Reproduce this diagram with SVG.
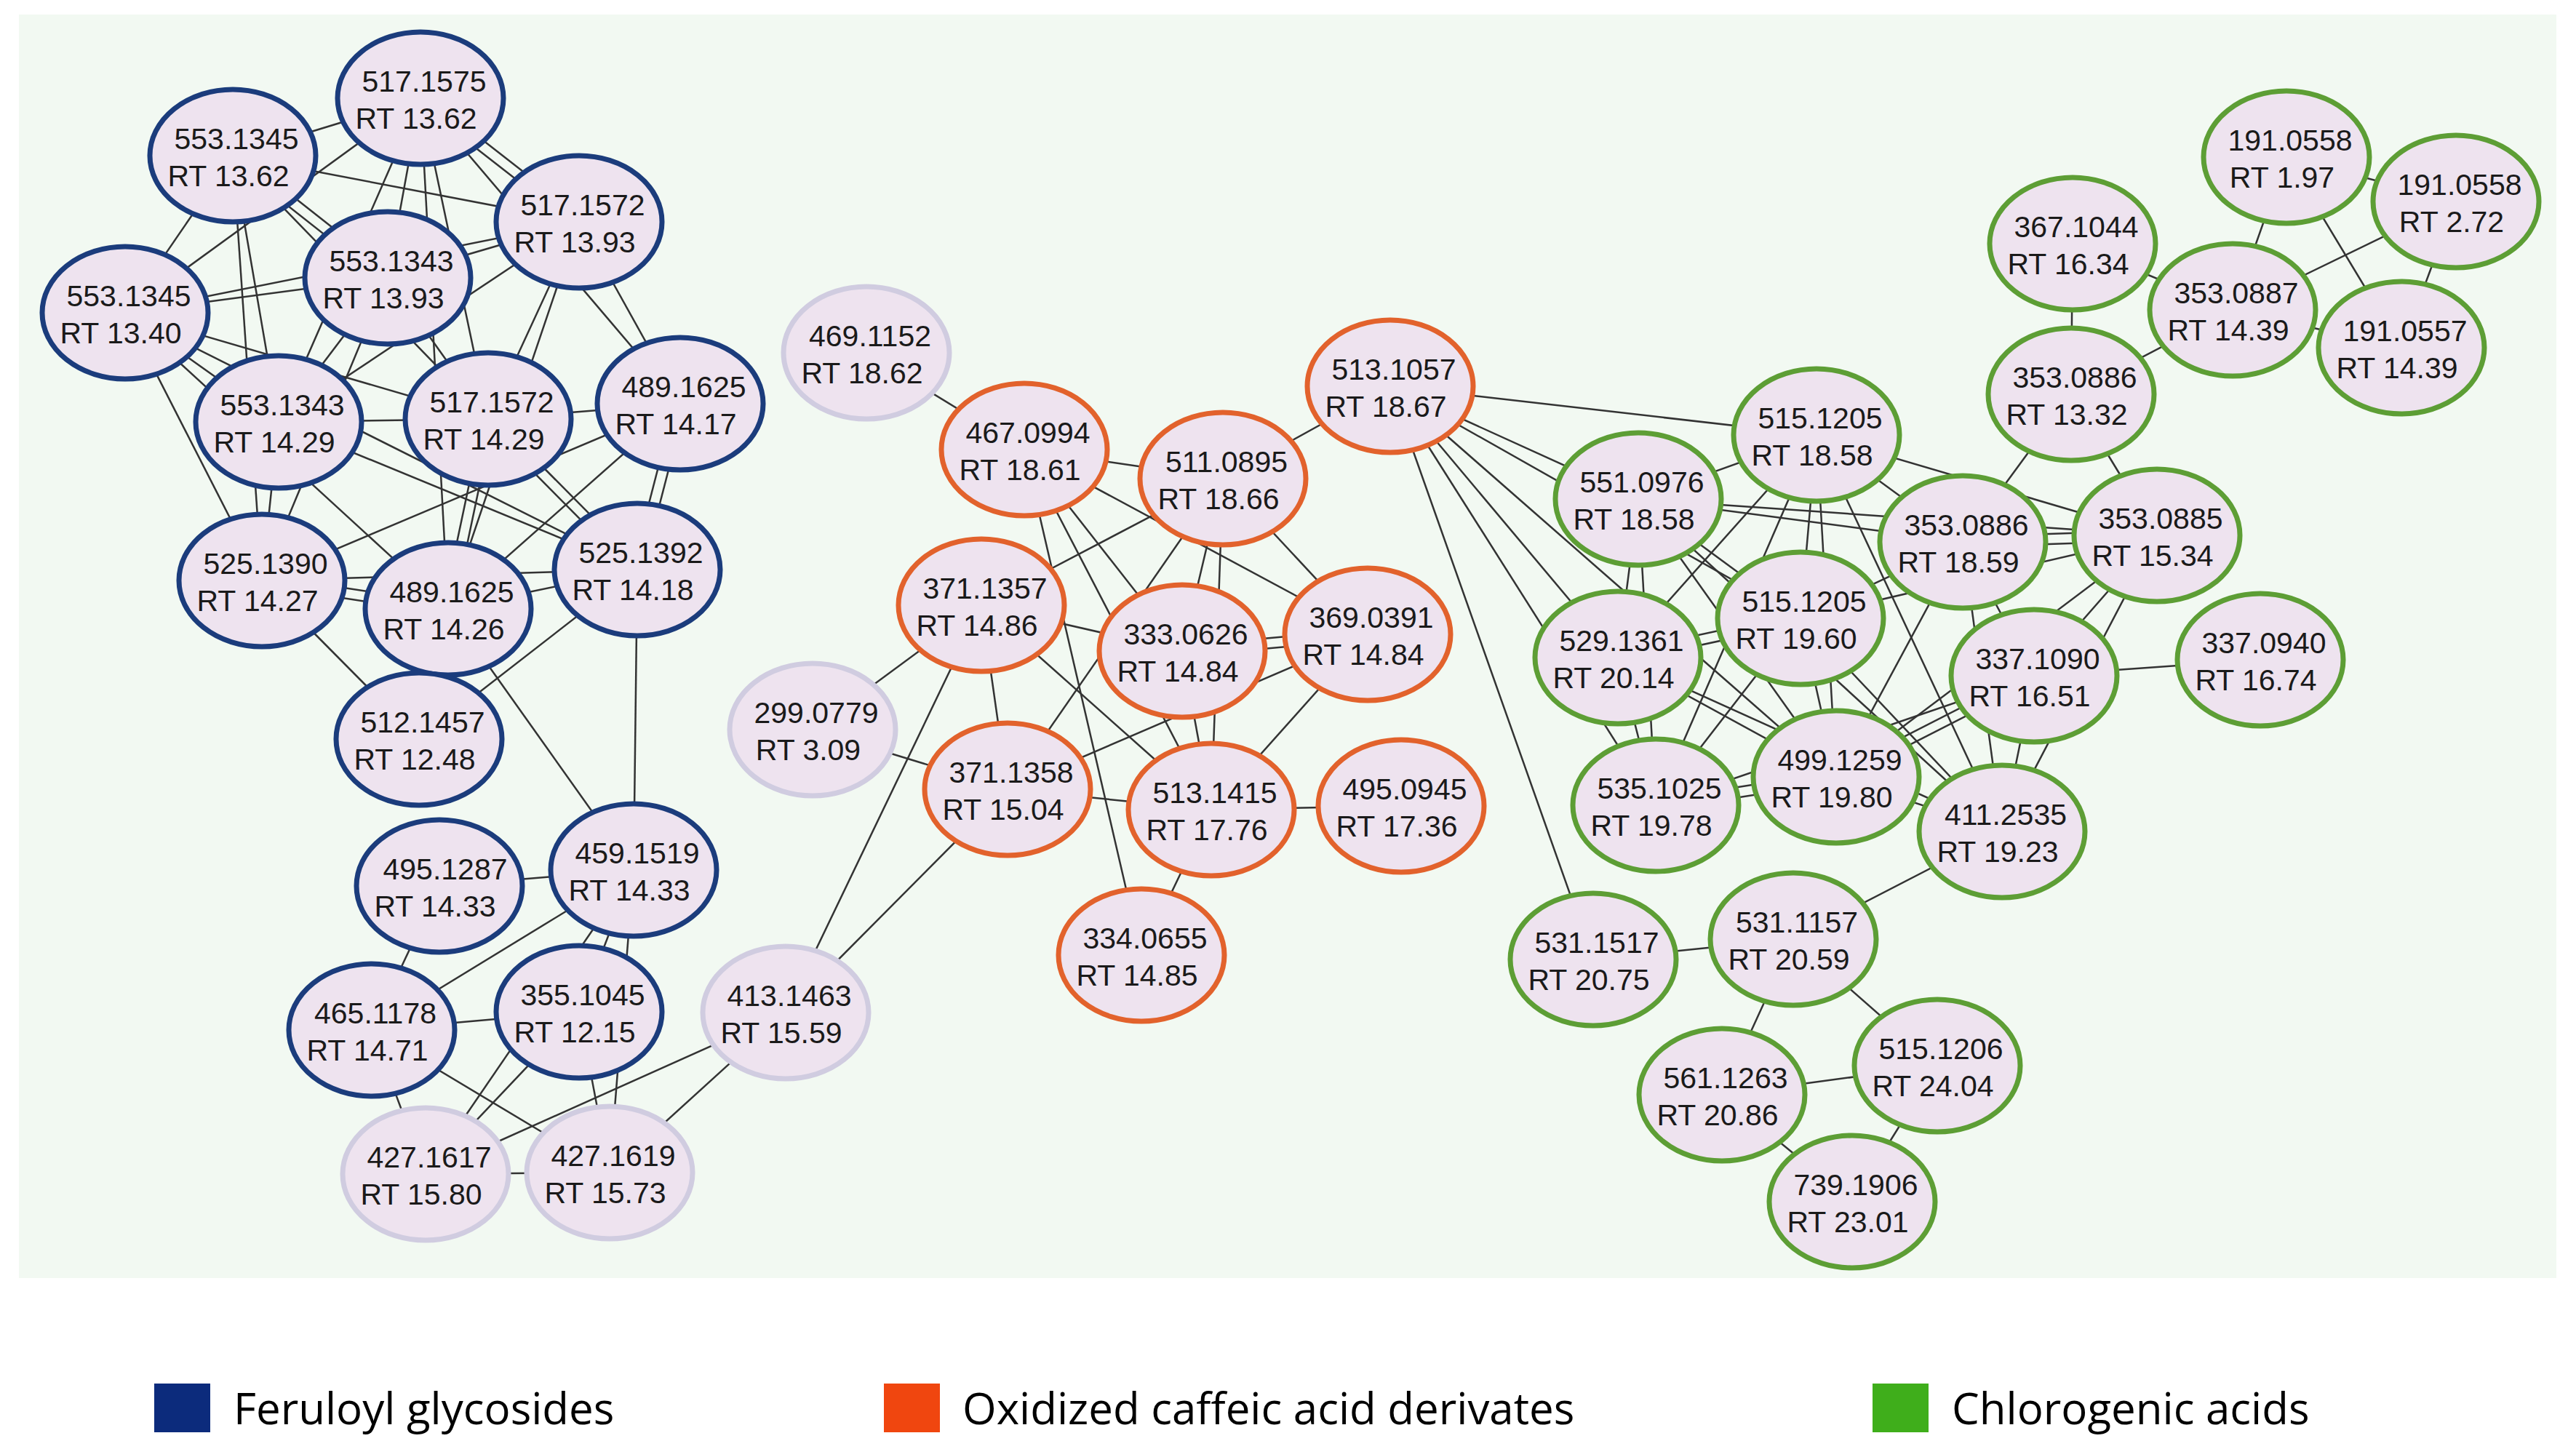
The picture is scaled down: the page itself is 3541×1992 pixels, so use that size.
<svg xmlns="http://www.w3.org/2000/svg" width="3541" height="1992" viewBox="0 0 3541 1992">
<style>
.node ellipse{fill:#eee3ef;stroke-width:7}
.blue ellipse{stroke:#1b3c7c}
.orange ellipse{stroke:#e2622c}
.green ellipse{stroke:#5d9e35}
.grey ellipse{stroke:#d0cce0}
.node text{font-family:"Liberation Sans",Arial,sans-serif;font-size:41px;fill:#1a1a1a;text-anchor:middle}
#edges line{stroke:#333;stroke-width:2.5}
.leg{font-family:"Open Sans","Noto Sans",sans-serif;font-size:60px;fill:#000}
</style>
<rect x="0" y="0" width="3541" height="1992" fill="#ffffff"/>
<rect x="26" y="20" width="3488" height="1737" fill="#f2f9f2"/>
<g id="edges">
<line x1="578" y1="135" x2="320" y2="214"/>
<line x1="574" y1="141" x2="792" y2="311"/>
<line x1="582" y1="129" x2="800" y2="299"/>
<line x1="578" y1="135" x2="172" y2="430"/>
<line x1="578" y1="135" x2="383" y2="580"/>
<line x1="578" y1="135" x2="533" y2="382"/>
<line x1="578" y1="135" x2="616" y2="837"/>
<line x1="578" y1="135" x2="671" y2="576"/>
<line x1="578" y1="135" x2="935" y2="555"/>
<line x1="320" y1="214" x2="796" y2="305"/>
<line x1="316" y1="220" x2="529" y2="388"/>
<line x1="324" y1="208" x2="537" y2="376"/>
<line x1="320" y1="214" x2="671" y2="576"/>
<line x1="320" y1="214" x2="383" y2="580"/>
<line x1="320" y1="214" x2="360" y2="798"/>
<line x1="320" y1="214" x2="172" y2="430"/>
<line x1="796" y1="305" x2="533" y2="382"/>
<line x1="796" y1="305" x2="172" y2="430"/>
<line x1="796" y1="305" x2="383" y2="580"/>
<line x1="796" y1="305" x2="935" y2="555"/>
<line x1="796" y1="305" x2="671" y2="576"/>
<line x1="796" y1="305" x2="616" y2="837"/>
<line x1="533" y1="382" x2="172" y2="430"/>
<line x1="533" y1="382" x2="671" y2="576"/>
<line x1="533" y1="382" x2="360" y2="798"/>
<line x1="533" y1="382" x2="383" y2="580"/>
<line x1="172" y1="430" x2="383" y2="580"/>
<line x1="172" y1="430" x2="671" y2="576"/>
<line x1="172" y1="430" x2="360" y2="798"/>
<line x1="172" y1="430" x2="616" y2="837"/>
<line x1="172" y1="430" x2="876" y2="783"/>
<line x1="383" y1="580" x2="671" y2="576"/>
<line x1="383" y1="580" x2="360" y2="798"/>
<line x1="383" y1="580" x2="876" y2="783"/>
<line x1="671" y1="576" x2="935" y2="555"/>
<line x1="678" y1="578" x2="623" y2="839"/>
<line x1="664" y1="575" x2="609" y2="836"/>
<line x1="666" y1="581" x2="871" y2="788"/>
<line x1="676" y1="571" x2="881" y2="778"/>
<line x1="942" y1="557" x2="883" y2="785"/>
<line x1="928" y1="553" x2="869" y2="781"/>
<line x1="935" y1="555" x2="616" y2="837"/>
<line x1="935" y1="555" x2="360" y2="798"/>
<line x1="359" y1="805" x2="615" y2="844"/>
<line x1="361" y1="791" x2="617" y2="830"/>
<line x1="360" y1="798" x2="876" y2="783"/>
<line x1="360" y1="798" x2="576" y2="1016"/>
<line x1="616" y1="837" x2="876" y2="783"/>
<line x1="616" y1="837" x2="871" y2="1196"/>
<line x1="876" y1="783" x2="576" y2="1016"/>
<line x1="876" y1="783" x2="871" y2="1196"/>
<line x1="604" y1="1218" x2="871" y2="1196"/>
<line x1="604" y1="1218" x2="511" y2="1416"/>
<line x1="871" y1="1196" x2="511" y2="1416"/>
<line x1="871" y1="1196" x2="796" y2="1391"/>
<line x1="871" y1="1196" x2="838" y2="1612"/>
<line x1="871" y1="1196" x2="585" y2="1614"/>
<line x1="511" y1="1416" x2="796" y2="1391"/>
<line x1="511" y1="1416" x2="838" y2="1612"/>
<line x1="511" y1="1416" x2="585" y2="1614"/>
<line x1="796" y1="1391" x2="585" y2="1614"/>
<line x1="796" y1="1391" x2="838" y2="1612"/>
<line x1="585" y1="1614" x2="838" y2="1612"/>
<line x1="1080" y1="1392" x2="585" y2="1614"/>
<line x1="1080" y1="1392" x2="838" y2="1612"/>
<line x1="1080" y1="1392" x2="1349" y2="832"/>
<line x1="1080" y1="1392" x2="1385" y2="1085"/>
<line x1="1191" y1="485" x2="1408" y2="618"/>
<line x1="1408" y1="618" x2="1681" y2="658"/>
<line x1="1681" y1="658" x2="1911" y2="531"/>
<line x1="1408" y1="618" x2="1880" y2="872"/>
<line x1="1681" y1="658" x2="1349" y2="832"/>
<line x1="1408" y1="618" x2="1569" y2="1313"/>
<line x1="1408" y1="618" x2="1665" y2="1113"/>
<line x1="1408" y1="618" x2="1625" y2="895"/>
<line x1="1681" y1="658" x2="1385" y2="1085"/>
<line x1="1681" y1="658" x2="1625" y2="895"/>
<line x1="1681" y1="658" x2="1665" y2="1113"/>
<line x1="1681" y1="658" x2="1880" y2="872"/>
<line x1="1626" y1="902" x2="1881" y2="879"/>
<line x1="1624" y1="888" x2="1879" y2="865"/>
<line x1="1385" y1="1085" x2="1880" y2="872"/>
<line x1="1349" y1="832" x2="1625" y2="895"/>
<line x1="1349" y1="832" x2="1385" y2="1085"/>
<line x1="1349" y1="832" x2="1665" y2="1113"/>
<line x1="1625" y1="895" x2="1665" y2="1113"/>
<line x1="1880" y1="872" x2="1665" y2="1113"/>
<line x1="1385" y1="1085" x2="1665" y2="1113"/>
<line x1="1665" y1="1113" x2="1926" y2="1108"/>
<line x1="1665" y1="1113" x2="1569" y2="1313"/>
<line x1="1117" y1="1003" x2="1349" y2="832"/>
<line x1="1117" y1="1003" x2="1385" y2="1085"/>
<line x1="1911" y1="531" x2="2497" y2="598"/>
<line x1="1911" y1="531" x2="2252" y2="686"/>
<line x1="1911" y1="531" x2="2475" y2="850"/>
<line x1="1911" y1="531" x2="2224" y2="904"/>
<line x1="1911" y1="531" x2="2524" y2="1068"/>
<line x1="1911" y1="531" x2="2276" y2="1107"/>
<line x1="1911" y1="531" x2="2190" y2="1319"/>
<line x1="2497" y1="598" x2="2252" y2="686"/>
<line x1="2497" y1="598" x2="2698" y2="745"/>
<line x1="2497" y1="598" x2="2965" y2="736"/>
<line x1="2847" y1="542" x2="2698" y2="745"/>
<line x1="2252" y1="686" x2="2698" y2="745"/>
<line x1="2252" y1="686" x2="2965" y2="736"/>
<line x1="2698" y1="752" x2="2965" y2="743"/>
<line x1="2698" y1="738" x2="2965" y2="729"/>
<line x1="2475" y1="850" x2="2698" y2="745"/>
<line x1="2475" y1="850" x2="2965" y2="736"/>
<line x1="2252" y1="686" x2="2224" y2="904"/>
<line x1="2252" y1="686" x2="2276" y2="1107"/>
<line x1="2252" y1="686" x2="2524" y2="1068"/>
<line x1="2252" y1="686" x2="2475" y2="850"/>
<line x1="2252" y1="686" x2="2752" y2="1143"/>
<line x1="2497" y1="598" x2="2224" y2="904"/>
<line x1="2497" y1="598" x2="2475" y2="850"/>
<line x1="2497" y1="598" x2="2524" y2="1068"/>
<line x1="2497" y1="598" x2="2276" y2="1107"/>
<line x1="2475" y1="850" x2="2276" y2="1107"/>
<line x1="2497" y1="598" x2="2752" y2="1143"/>
<line x1="2698" y1="745" x2="2524" y2="1068"/>
<line x1="2698" y1="745" x2="2796" y2="929"/>
<line x1="2698" y1="745" x2="2752" y2="1143"/>
<line x1="2225" y1="911" x2="2476" y2="857"/>
<line x1="2223" y1="897" x2="2474" y2="843"/>
<line x1="2224" y1="904" x2="2276" y2="1107"/>
<line x1="2224" y1="904" x2="2524" y2="1068"/>
<line x1="2224" y1="904" x2="2752" y2="1143"/>
<line x1="2475" y1="850" x2="2524" y2="1068"/>
<line x1="2475" y1="850" x2="2752" y2="1143"/>
<line x1="2277" y1="1114" x2="2525" y2="1075"/>
<line x1="2275" y1="1100" x2="2523" y2="1061"/>
<line x1="2524" y1="1068" x2="2752" y2="1143"/>
<line x1="2527" y1="1074" x2="2799" y2="935"/>
<line x1="2521" y1="1062" x2="2793" y2="923"/>
<line x1="2276" y1="1107" x2="2796" y2="929"/>
<line x1="2796" y1="929" x2="2752" y2="1143"/>
<line x1="2965" y1="736" x2="2752" y2="1143"/>
<line x1="2965" y1="736" x2="2796" y2="929"/>
<line x1="2965" y1="736" x2="2524" y2="1068"/>
<line x1="2796" y1="929" x2="3107" y2="907"/>
<line x1="2847" y1="542" x2="2965" y2="736"/>
<line x1="2847" y1="542" x2="2849" y2="335"/>
<line x1="2847" y1="542" x2="3069" y2="426"/>
<line x1="2849" y1="335" x2="3069" y2="426"/>
<line x1="3069" y1="426" x2="3143" y2="216"/>
<line x1="3069" y1="426" x2="3376" y2="277"/>
<line x1="3069" y1="426" x2="3301" y2="478"/>
<line x1="3143" y1="216" x2="3376" y2="277"/>
<line x1="3143" y1="216" x2="3301" y2="478"/>
<line x1="3376" y1="277" x2="3301" y2="478"/>
<line x1="2752" y1="1143" x2="2465" y2="1291"/>
<line x1="2190" y1="1319" x2="2465" y2="1291"/>
<line x1="2465" y1="1291" x2="2367" y2="1505"/>
<line x1="2465" y1="1291" x2="2663" y2="1465"/>
<line x1="2367" y1="1505" x2="2663" y2="1465"/>
<line x1="2367" y1="1505" x2="2546" y2="1652"/>
<line x1="2663" y1="1465" x2="2546" y2="1652"/>
</g>
<g id="n1" class="node blue" transform="translate(578,135)"><ellipse rx="114" ry="91"/><text x="5" y="-9">517.1575</text><text x="-6" y="42">RT 13.62</text></g>
<g id="n2" class="node blue" transform="translate(320,214)"><ellipse rx="114" ry="91"/><text x="5" y="-9">553.1345</text><text x="-6" y="42">RT 13.62</text></g>
<g id="n3" class="node blue" transform="translate(796,305)"><ellipse rx="114" ry="91"/><text x="5" y="-9">517.1572</text><text x="-6" y="42">RT 13.93</text></g>
<g id="n4" class="node blue" transform="translate(533,382)"><ellipse rx="114" ry="91"/><text x="5" y="-9">553.1343</text><text x="-6" y="42">RT 13.93</text></g>
<g id="n5" class="node blue" transform="translate(172,430)"><ellipse rx="114" ry="91"/><text x="5" y="-9">553.1345</text><text x="-6" y="42">RT 13.40</text></g>
<g id="n6" class="node blue" transform="translate(383,580)"><ellipse rx="114" ry="91"/><text x="5" y="-9">553.1343</text><text x="-6" y="42">RT 14.29</text></g>
<g id="n7" class="node blue" transform="translate(671,576)"><ellipse rx="114" ry="91"/><text x="5" y="-9">517.1572</text><text x="-6" y="42">RT 14.29</text></g>
<g id="n8" class="node blue" transform="translate(935,555)"><ellipse rx="114" ry="91"/><text x="5" y="-9">489.1625</text><text x="-6" y="42">RT 14.17</text></g>
<g id="n9" class="node blue" transform="translate(360,798)"><ellipse rx="114" ry="91"/><text x="5" y="-9">525.1390</text><text x="-6" y="42">RT 14.27</text></g>
<g id="n10" class="node blue" transform="translate(616,837)"><ellipse rx="114" ry="91"/><text x="5" y="-9">489.1625</text><text x="-6" y="42">RT 14.26</text></g>
<g id="n11" class="node blue" transform="translate(876,783)"><ellipse rx="114" ry="91"/><text x="5" y="-9">525.1392</text><text x="-6" y="42">RT 14.18</text></g>
<g id="n12" class="node blue" transform="translate(576,1016)"><ellipse rx="114" ry="91"/><text x="5" y="-9">512.1457</text><text x="-6" y="42">RT 12.48</text></g>
<g id="n13" class="node blue" transform="translate(604,1218)"><ellipse rx="114" ry="91"/><text x="8" y="-9">495.1287</text><text x="-6" y="42">RT 14.33</text></g>
<g id="n14" class="node blue" transform="translate(871,1196)"><ellipse rx="114" ry="91"/><text x="5" y="-9">459.1519</text><text x="-6" y="42">RT 14.33</text></g>
<g id="n15" class="node blue" transform="translate(511,1416)"><ellipse rx="114" ry="91"/><text x="5" y="-9">465.1178</text><text x="-6" y="42">RT 14.71</text></g>
<g id="n16" class="node blue" transform="translate(796,1391)"><ellipse rx="114" ry="91"/><text x="5" y="-9">355.1045</text><text x="-6" y="42">RT 12.15</text></g>
<g id="n17" class="node grey" transform="translate(585,1614)"><ellipse rx="114" ry="91"/><text x="5" y="-9">427.1617</text><text x="-6" y="42">RT 15.80</text></g>
<g id="n18" class="node grey" transform="translate(838,1612)"><ellipse rx="114" ry="91"/><text x="5" y="-9">427.1619</text><text x="-6" y="42">RT 15.73</text></g>
<g id="n19" class="node grey" transform="translate(1080,1392)"><ellipse rx="114" ry="91"/><text x="5" y="-9">413.1463</text><text x="-6" y="42">RT 15.59</text></g>
<g id="n20" class="node grey" transform="translate(1191,485)"><ellipse rx="114" ry="91"/><text x="5" y="-9">469.1152</text><text x="-6" y="42">RT 18.62</text></g>
<g id="n21" class="node grey" transform="translate(1117,1003)"><ellipse rx="114" ry="91"/><text x="5" y="-9">299.0779</text><text x="-6" y="42">RT 3.09</text></g>
<g id="n22" class="node orange" transform="translate(1408,618)"><ellipse rx="114" ry="91"/><text x="5" y="-9">467.0994</text><text x="-6" y="42">RT 18.61</text></g>
<g id="n23" class="node orange" transform="translate(1681,658)"><ellipse rx="114" ry="91"/><text x="5" y="-9">511.0895</text><text x="-6" y="42">RT 18.66</text></g>
<g id="n24" class="node orange" transform="translate(1911,531)"><ellipse rx="114" ry="91"/><text x="5" y="-9">513.1057</text><text x="-6" y="42">RT 18.67</text></g>
<g id="n25" class="node orange" transform="translate(1349,832)"><ellipse rx="114" ry="91"/><text x="5" y="-9">371.1357</text><text x="-6" y="42">RT 14.86</text></g>
<g id="n26" class="node orange" transform="translate(1625,895)"><ellipse rx="114" ry="91"/><text x="5" y="-9">333.0626</text><text x="-6" y="42">RT 14.84</text></g>
<g id="n27" class="node orange" transform="translate(1880,872)"><ellipse rx="114" ry="91"/><text x="5" y="-9">369.0391</text><text x="-6" y="42">RT 14.84</text></g>
<g id="n28" class="node orange" transform="translate(1385,1085)"><ellipse rx="114" ry="91"/><text x="5" y="-9">371.1358</text><text x="-6" y="42">RT 15.04</text></g>
<g id="n29" class="node orange" transform="translate(1665,1113)"><ellipse rx="114" ry="91"/><text x="5" y="-9">513.1415</text><text x="-6" y="42">RT 17.76</text></g>
<g id="n30" class="node orange" transform="translate(1926,1108)"><ellipse rx="114" ry="91"/><text x="5" y="-9">495.0945</text><text x="-6" y="42">RT 17.36</text></g>
<g id="n31" class="node orange" transform="translate(1569,1313)"><ellipse rx="114" ry="91"/><text x="5" y="-9">334.0655</text><text x="-6" y="42">RT 14.85</text></g>
<g id="n32" class="node green" transform="translate(2497,598)"><ellipse rx="114" ry="91"/><text x="5" y="-9">515.1205</text><text x="-6" y="42">RT 18.58</text></g>
<g id="n33" class="node green" transform="translate(2252,686)"><ellipse rx="114" ry="91"/><text x="5" y="-9">551.0976</text><text x="-6" y="42">RT 18.58</text></g>
<g id="n34" class="node green" transform="translate(2698,745)"><ellipse rx="114" ry="91"/><text x="5" y="-9">353.0886</text><text x="-6" y="42">RT 18.59</text></g>
<g id="n35" class="node green" transform="translate(2965,736)"><ellipse rx="114" ry="91"/><text x="5" y="-9">353.0885</text><text x="-6" y="42">RT 15.34</text></g>
<g id="n36" class="node green" transform="translate(2847,542)"><ellipse rx="114" ry="91"/><text x="5" y="-9">353.0886</text><text x="-6" y="42">RT 13.32</text></g>
<g id="n37" class="node green" transform="translate(2849,335)"><ellipse rx="114" ry="91"/><text x="5" y="-9">367.1044</text><text x="-6" y="42">RT 16.34</text></g>
<g id="n38" class="node green" transform="translate(3069,426)"><ellipse rx="114" ry="91"/><text x="5" y="-9">353.0887</text><text x="-6" y="42">RT 14.39</text></g>
<g id="n39" class="node green" transform="translate(3143,216)"><ellipse rx="114" ry="91"/><text x="5" y="-9">191.0558</text><text x="-6" y="42">RT 1.97</text></g>
<g id="n40" class="node green" transform="translate(3376,277)"><ellipse rx="114" ry="91"/><text x="5" y="-9">191.0558</text><text x="-6" y="42">RT 2.72</text></g>
<g id="n41" class="node green" transform="translate(3301,478)"><ellipse rx="114" ry="91"/><text x="5" y="-9">191.0557</text><text x="-6" y="42">RT 14.39</text></g>
<g id="n42" class="node green" transform="translate(2224,904)"><ellipse rx="114" ry="91"/><text x="5" y="-9">529.1361</text><text x="-6" y="42">RT 20.14</text></g>
<g id="n43" class="node green" transform="translate(2475,850)"><ellipse rx="114" ry="91"/><text x="5" y="-9">515.1205</text><text x="-6" y="42">RT 19.60</text></g>
<g id="n44" class="node green" transform="translate(2796,929)"><ellipse rx="114" ry="91"/><text x="5" y="-9">337.1090</text><text x="-6" y="42">RT 16.51</text></g>
<g id="n45" class="node green" transform="translate(3107,907)"><ellipse rx="114" ry="91"/><text x="5" y="-9">337.0940</text><text x="-6" y="42">RT 16.74</text></g>
<g id="n46" class="node green" transform="translate(2276,1107)"><ellipse rx="114" ry="91"/><text x="5" y="-9">535.1025</text><text x="-6" y="42">RT 19.78</text></g>
<g id="n47" class="node green" transform="translate(2524,1068)"><ellipse rx="114" ry="91"/><text x="5" y="-9">499.1259</text><text x="-6" y="42">RT 19.80</text></g>
<g id="n48" class="node green" transform="translate(2752,1143)"><ellipse rx="114" ry="91"/><text x="5" y="-9">411.2535</text><text x="-6" y="42">RT 19.23</text></g>
<g id="n49" class="node green" transform="translate(2190,1319)"><ellipse rx="114" ry="91"/><text x="5" y="-9">531.1517</text><text x="-6" y="42">RT 20.75</text></g>
<g id="n50" class="node green" transform="translate(2465,1291)"><ellipse rx="114" ry="91"/><text x="5" y="-9">531.1157</text><text x="-6" y="42">RT 20.59</text></g>
<g id="n51" class="node green" transform="translate(2367,1505)"><ellipse rx="114" ry="91"/><text x="5" y="-9">561.1263</text><text x="-6" y="42">RT 20.86</text></g>
<g id="n52" class="node green" transform="translate(2663,1465)"><ellipse rx="114" ry="91"/><text x="5" y="-9">515.1206</text><text x="-6" y="42">RT 24.04</text></g>
<g id="n53" class="node green" transform="translate(2546,1652)"><ellipse rx="114" ry="91"/><text x="5" y="-9">739.1906</text><text x="-6" y="42">RT 23.01</text></g>
<g id="legend">
<rect x="212" y="1902" width="77" height="67" fill="#0c2b7c"/>
<text class="leg" x="321" y="1958">Feruloyl glycosides</text>
<rect x="1215" y="1902" width="77" height="67" fill="#f0460f"/>
<text class="leg" x="1323" y="1958">Oxidized caffeic acid derivates</text>
<rect x="2574" y="1902" width="77" height="67" fill="#3fae1b"/>
<text class="leg" x="2683" y="1958">Chlorogenic acids</text>
</g>
</svg>
